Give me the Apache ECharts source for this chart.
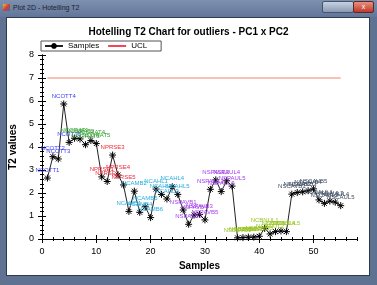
<!DOCTYPE html>
<html>
<head>
<meta charset="utf-8">
<script src="https://cdn.jsdelivr.net/npm/echarts@6/dist/echarts.min.js"></script>
<style>
html, body { margin: 0; padding: 0; width: 377px; height: 285px; overflow: hidden; background: #5f7292; font-family: "Liberation Sans", Arial, sans-serif; }
#titlebar { position: absolute; left: 0; top: 0; width: 377px; height: 17px; background: linear-gradient(#7d90ae, #62769a); }
#icon { position: absolute; left: 3px; top: 4px; width: 7px; height: 7px; background: linear-gradient(135deg, #e8c040, #d04030 50%, #3070c0); }
#titletext { position: absolute; left: 13px; top: 4px; font-size: 7px; color: #1c2230; white-space: nowrap; }
#btns { position: absolute; left: 322px; top: 1px; width: 30px; height: 10px; background: linear-gradient(#c8d2e0, #8a9ab4); border: 1px solid #44536e; border-radius: 2px; }
#close { position: absolute; left: 353px; top: 1px; width: 19px; height: 10px; background: linear-gradient(#e89080, #c03828); border: 1px solid #5a2a24; border-radius: 2px; color: #fff; font-size: 7px; text-align: center; line-height: 10px; }
#client { position: absolute; left: 6px; top: 17px; width: 362px; height: 257px; background: #fff; border: 1px solid #2e3a50; }
#chart { position: absolute; left: 0; top: 0; width: 377px; height: 285px; }
</style>
</head>
<body>
<div id="titlebar"><div id="icon"></div><div id="titletext">Plot 2D - Hotelling T2</div></div>
<div id="btns"></div>
<div id="close">x</div>
<div id="client"></div>
<div id="chart"></div>
<script>
// sample numbers along the x axis
var sampleIds = [1, 2, 3, 4, 5, 6, 7, 8, 9, 10, 11, 12, 13, 14, 15, 16, 17, 18, 19, 20,
    21, 22, 23, 24, 25, 26, 27, 28, 29, 30, 31, 32, 33, 34, 35, 36, 37, 38, 39, 40,
    41, 42, 43, 44, 45, 46, 47, 48, 49, 50, 51, 52, 53, 54, 55];

// Hotelling T2 value of each sample
var t2Values = [2.65, 3.58, 3.48, 5.87, 4.2, 4.38, 4.35, 4.1, 4.28, 4.15,
    2.7, 2.5, 3.65, 2.78, 2.35, 1.2, 2.08, 1.16, 1.4, 0.93,
    2.17, 1.94, 1.74, 2.27, 1.94, 1.26, 0.64, 1.04, 1.07, 0.83,
    2.16, 2.57, 2.06, 2.53, 2.3, 0.05, 0.06, 0.08, 0.08, 0.12,
    0.46, 0.22, 0.32, 0.35, 0.32, 1.95, 2.02, 2.05, 2.1, 2.18,
    1.7, 1.55, 1.65, 1.6, 1.45];

var sampleNames = ['NCOTT1', 'NCOTT2', 'NCOTT3', 'NCOTT4', 'NCOTT5',
    'NCGRAT1', 'NCGRAT2', 'NCGRAT3', 'NCGRAT4', 'NCGRAT5',
    'NPRSE1', 'NPRSE2', 'NPRSE3', 'NPRSE4', 'NPRSE5',
    'NCAMB1', 'NCAMB2', 'NCAMB4', 'NCAMB5', 'NCAMB6',
    'NCAHL1', 'NCAHL2', 'NCAHL3', 'NCAHL4', 'NCAHL5',
    'NSPAVB1', 'NSPAVB2', 'NSPAVB4', 'NSPAVB3', 'NSPAVB5',
    'NSPAUL1', 'NSPAUL2', 'NSPAUL3', 'NSPAUL4', 'NSPAUL5',
    'NSBBVB1', 'NSBBVB2', 'NSBBVB3', 'NSBBVB4', 'NSBBVB5',
    'NCBNUL1', 'NCBNUL2', 'NCBNUL3', 'NCBNUL4', 'NCBNUL5',
    'NSCAVB1', 'NSCAVB2', 'NSCAVB3', 'NSCAVB4', 'NSCAVB5',
    'NSCAUL1', 'NSCAUL2', 'NSCAUL3', 'NSCAUL4', 'NSCAUL5'];

// group of each sample (index into groupColors)
var sampleGroup = [0, 0, 0, 0, 0, 1, 1, 1, 1, 1, 2, 2, 2, 2, 2,
    3, 3, 3, 3, 3, 3, 3, 3, 3, 3, 4, 4, 4, 4, 4, 4, 4, 4, 4, 4,
    5, 5, 5, 5, 5, 5, 5, 5, 5, 5, 6, 6, 6, 6, 6, 6, 6, 6, 6, 6];
var groupColors = ['#3b3bf5', '#2f9e2f', '#f02a3a', '#26aee0', '#a43cf0', '#98c420', '#3e4c62'];

// upper control limit
var uclX = [1, 55];
var uclValue = 7;

var xMajor = [0, 10, 20, 30, 40, 50];
var yMajor = [0, 1, 2, 3, 4, 5, 6, 7, 8];

var myChart = echarts.init(document.getElementById('chart'));

var pointData = sampleIds.map(function (id, i) {
    return {
        value: [id, t2Values[i]],
        label: { color: groupColors[sampleGroup[i]] }
    };
});

var asterisk = 'path://M5,0L5,10M0,5L10,5M1.5,1.5L8.5,8.5M8.5,1.5L1.5,8.5';

function tickAxis(pos, min, max, step, opts) {
    var a = {
        type: 'value', position: pos, min: min, max: max, interval: step,
        offset: opts.offset || 0,
        axisLine: { show: !!opts.line, lineStyle: { color: '#000', width: 1 } },
        axisTick: { show: true, inside: !!opts.inside, length: opts.len, lineStyle: { color: '#000' } },
        axisLabel: { show: false },
        splitLine: { show: false }
    };
    if (opts.custom) a.axisTick.customValues = opts.custom;
    return a;
}

var xBottom = tickAxis('bottom', 0, 58, 2, { line: true, len: 0 });
xBottom.axisTick.show = false;
xBottom.axisLabel = { show: true, customValues: xMajor, margin: 8, fontSize: 9, color: '#000' };
xBottom.name = 'Samples';
xBottom.nameLocation = 'middle';
xBottom.nameGap = 21;
xBottom.nameTextStyle = { fontWeight: 'bold', fontSize: 10, color: '#000' };

var yLeft = tickAxis('left', 0, 8, 0.2, { line: true, len: 0 });
yLeft.axisTick.show = false;
yLeft.axisLabel = { show: true, customValues: yMajor, margin: 8, fontSize: 9, color: '#000' };
yLeft.name = 'T2 values';
yLeft.nameLocation = 'middle';
yLeft.nameGap = 20;
yLeft.nameTextStyle = { fontWeight: 'bold', fontSize: 10, color: '#000' };

var option = {
    textStyle: { fontFamily: '"Liberation Sans", Arial, sans-serif' },
    animation: false,
    title: {
        text: 'Hotelling T2 Chart for outliers - PC1 x PC2',
        left: 'center',
        top: 22,
        textStyle: { fontSize: 10, fontWeight: 'bold', color: '#000' }
    },
    legend: {
        data: [
            { name: 'Samples' },
            { name: 'UCL', itemStyle: { opacity: 0 }, lineStyle: { color: '#f4465a', opacity: 1 } }
        ],
        left: 41,
        top: 41,
        padding: [1, 14, 1, 3],
        itemWidth: 18,
        itemHeight: 7,
        itemGap: 8,
        borderColor: '#555',
        borderWidth: 1,
        textStyle: { fontSize: 8, color: '#000' }
    },
    grid: { left: 42, top: 55, right: 20, bottom: 46 },
    xAxis: [
        xBottom,
        tickAxis('bottom', 0, 58, 2, { offset: -4, len: 8, custom: xMajor }),
        tickAxis('bottom', 0, 58, 2, { offset: -2, len: 4 }),
        tickAxis('top', 0, 58, 2, { line: true, inside: true, len: 4, custom: xMajor }),
        tickAxis('top', 0, 58, 2, { inside: true, len: 2 })
    ],
    yAxis: [
        yLeft,
        tickAxis('left', 0, 8, 0.2, { offset: -4, len: 8, custom: yMajor }),
        tickAxis('left', 0, 8, 0.2, { offset: -2, len: 4 }),
        tickAxis('right', 0, 8, 0.2, { line: true, inside: true, len: 4, custom: yMajor }),
        tickAxis('right', 0, 8, 0.2, { inside: true, len: 2 })
    ],
    series: [
        {
            name: 'Samples',
            type: 'line',
            xAxisIndex: 0,
            yAxisIndex: 0,
            data: pointData,
            symbol: asterisk,
            symbolSize: 7,
            lineStyle: { color: '#222', width: 1 },
            itemStyle: { color: '#000', borderColor: '#000', borderWidth: 1 },
            label: {
                show: true,
                position: 'top',
                distance: 1,
                fontSize: 6,
                formatter: function (p) { return sampleNames[p.dataIndex]; }
            },
            z: 3
        },
        {
            name: 'UCL',
            type: 'line',
            xAxisIndex: 0,
            yAxisIndex: 0,
            data: uclX.map(function (x) { return [x, uclValue]; }),
            symbol: 'none',
            lineStyle: { color: '#f0846a', width: 1 },
            itemStyle: { color: '#f0846a' }
        }
    ]
};

myChart.setOption(option);
</script>
</body>
</html>
